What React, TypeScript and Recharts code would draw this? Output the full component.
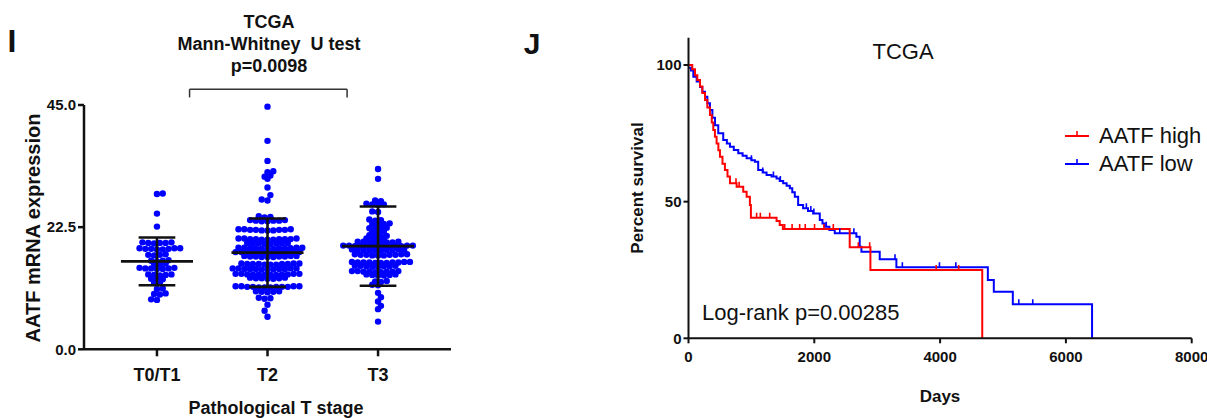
import React from "react";
import { ComposedChart, Scatter, Line, XAxis, YAxis, ReferenceLine } from "recharts";

const FONT = '"Liberation Sans", Arial, Helvetica, sans-serif';
const INK = "#111";

// ---------- panel I : AATF expression by T stage ----------
const stages = ["T0/T1", "T2", "T3"];
const exprTicks = [0, 22.5, 45];

const t01Values = [
  28.7, 28.6, 25.0, 22.6,
  19.7, 19.6, 19.6, 19.5, 19.7, 19.6,
  18.6, 18.5, 18.5, 18.4, 18.6, 18.5, 18.4, 18.6,
  17.5, 17.4, 17.3, 17.4,
  16.4, 16.3, 16.2, 16.3,
  15.8, 15.7, 15.6,
  15.0, 14.9, 14.9, 14.8, 15.0, 14.8, 14.9,
  13.8, 13.7, 13.7, 13.6, 13.8,
  13.0, 12.9, 12.8,
  12.3, 12.2,
  11.2, 11.1,
  10.3, 10.2, 10.1,
  9.2, 9.1,
];

const t2Values = [
  44.7, 38.4, 34.7, 32.8, 32.6, 32.0, 31.8, 31.4, 29.8, 28.4, 27.6, 27.4,
  24.5, 24.4, 24.3,
  23.8, 23.7, 23.7, 23.6, 23.8, 23.7, 23.6,
  22.1, 22.0, 22.0, 21.9, 22.1, 22.0, 21.9, 22.1, 22.0, 21.9,
  20.4, 20.3, 20.3, 20.2, 20.4, 20.3, 20.2, 20.4, 20.3, 20.2, 20.3,
  19.6, 19.5, 19.5, 19.4, 19.6, 19.5, 19.4, 19.6,
  18.7, 18.6, 18.6, 18.5, 18.7, 18.6, 18.5, 18.7, 18.6, 18.5, 18.6, 18.7,
  17.9, 17.8, 17.8, 17.7, 17.9, 17.8, 17.7, 17.9, 17.8, 17.7, 17.8, 17.9,
  17.2, 17.1, 17.1, 17.0, 17.2, 17.1, 17.0, 17.2, 17.1, 17.0,
  15.8, 15.7, 15.7, 15.6, 15.8, 15.7, 15.6, 15.8, 15.7, 15.6, 15.7,
  14.9, 14.8, 14.8, 14.7, 14.9, 14.8, 14.7, 14.9, 14.8, 14.7, 14.8, 14.9,
  13.9, 13.8, 13.8, 13.7, 13.9, 13.8, 13.7, 13.9, 13.8, 13.7, 13.8, 13.9,
  13.2, 13.1, 13.1, 13.0, 13.2, 13.1, 13.0,
  11.6, 11.5, 11.5, 11.4, 11.6, 11.5, 11.4, 11.6, 11.5, 11.4, 11.5, 11.6,
  10.7, 10.6, 10.6, 10.5, 10.7,
  9.5, 9.4, 9.3,
  8.2, 7.1, 6.0,
];

const t3Values = [
  33.2, 31.4,
  27.4, 27.3,
  26.8, 26.7, 26.7, 26.6,
  25.4, 25.3,
  23.9, 23.8, 23.7,
  23.2, 23.1, 23.1, 23.0,
  22.4, 22.3, 22.3, 22.2,
  21.7, 21.6, 21.5,
  21.0, 20.9, 20.9, 20.8,
  20.4, 20.3, 20.3, 20.2,
  19.8, 19.7, 19.7, 19.6, 19.8, 19.7, 19.6, 19.8,
  19.1, 19.0, 19.0, 18.9, 19.1, 19.0, 18.9, 19.1, 19.0, 18.9, 19.0, 19.1, 18.9,
  18.4, 18.3, 18.3, 18.2, 18.4, 18.3, 18.2, 18.4, 18.3, 18.2,
  17.5, 17.4, 17.4, 17.3, 17.5, 17.4, 17.3, 17.5, 17.4, 17.3,
  16.1, 16.0, 16.0, 15.9, 16.1, 16.0, 15.9, 16.1, 16.0, 15.9, 16.0,
  15.4, 15.3, 15.3, 15.2, 15.4, 15.3, 15.2, 15.4,
  14.4, 14.3, 14.3, 14.2, 14.4, 14.3, 14.2, 14.4, 14.3,
  13.8, 13.7, 13.7, 13.6, 13.8, 13.6,
  12.6, 12.5, 12.4,
  11.9, 11.8,
  10.4, 9.6, 8.8, 8.0, 7.4, 5.1,
];

const stageMeans = [16.2, 17.8, 19.0];
const stageSDs = [4.4, 6.3, 7.3];

// ---------- panel J : Kaplan-Meier ----------
const dayTicks = [0, 2000, 4000, 6000, 8000];
const survivalTicks = [0, 50, 100];

const highCurve: [number, number][] = [
  [0, 100], [60, 98.5], [103, 96.3], [140, 94.5], [183, 92.1], [220, 89.8], [262, 87.2],
  [300, 84.5], [341, 81.7], [370, 79.0], [394, 76.2], [420, 73.8], [447, 71.3], [475, 68.8],
  [500, 66.4], [540, 63.9], [579, 61.6], [620, 59.2], [659, 56.7], [765, 55.5], [870, 53.6],
  [924, 51.8], [976, 48.8], [992, 44.1], [1400, 42.9], [1450, 41.5], [1500, 40.0],
  [2563, 33.3], [2892, 25.0], [4670, 0],
];

const lowCurve: [number, number][] = [
  [0, 99], [40, 98], [77, 95.7], [130, 94], [183, 92], [220, 90.2], [262, 88.4], [300, 86],
  [341, 83.5], [380, 80.7], [421, 78], [473, 75], [552, 72.6], [610, 71.3], [659, 70.1],
  [720, 68.9], [791, 67.7], [860, 66.8], [924, 65.9], [1000, 65.2], [1056, 64.6], [1108, 61.6],
  [1180, 60.7], [1241, 59.8], [1320, 59.2], [1400, 58.5], [1450, 57.6], [1505, 56.7],
  [1560, 55.8], [1611, 54.9], [1650, 53.4], [1690, 51.8], [1743, 48.8], [1822, 47.6],
  [1900, 46.6], [1981, 45.7], [2087, 43.3], [2130, 42.0], [2167, 40.8], [2240, 39.6],
  [2325, 38.4], [2669, 37.2], [2722, 33.5], [2749, 31.7], [3040, 28.9], [3305, 26.0],
  [4759, 21.3], [4854, 17.0], [5156, 12.5], [6416, 0],
];

const highCensored = [755, 805, 1083, 1142, 1291, 1529, 1647, 1767, 1856, 2004, 2153, 2302, 2700, 2880, 3938, 4295];
const lowCensored = [1000, 1180, 1350, 1460, 1874, 1945, 1993, 2190, 2405, 2629, 3283, 3400, 3990, 4250, 5251, 5473];

// panel I plot box (px) used to lay the dots out in rows
const I_PLOT_W = 367;
const I_PLOT_H = 244.3;
const I_X_DOMAIN: [number, number] = [-0.66, 2.66];
const DOT_STEP = 5.8;

function swarm(values: number[], group: number) {
  const pxX = I_PLOT_W / (I_X_DOMAIN[1] - I_X_DOMAIN[0]);
  const pxY = I_PLOT_H / 45;
  const sorted = [...values].sort((a, b) => a - b);
  const placed: { x: number; y: number }[] = [];
  return sorted.map((v, i) => {
    const py = v * pxY;
    const sign = i % 2 === 0 ? 1 : -1;
    let off = 0;
    for (let k = 0; k < 80; k++) {
      const cand = k === 0 ? 0 : Math.ceil(k / 2) * (k % 2 === 1 ? 1 : -1) * sign * (DOT_STEP / 2);
      const ok = placed.every((p) => {
        const dy = Math.abs(p.y - py);
        const dx = Math.abs(p.x - cand);
        if (dy < 2) return dx >= DOT_STEP - 0.01;
        if (dy < 6) return dx >= DOT_STEP / 2 - 0.01;
        return true;
      });
      if (ok) {
        off = cand;
        break;
      }
    }
    placed.push({ x: off, y: py });
    return { x: group + off / pxX, y: v };
  });
}

const survivalAt = (curve: [number, number][], t: number) => {
  let s = curve[0][1];
  for (const [ct, cs] of curve) if (ct <= t) s = cs;
  return s;
};

const Dot = (props: any) => <circle cx={props.cx} cy={props.cy} r={3.2} fill="#0000ff" />;

const CensorTick = (color: string) => (props: any) =>
  <line x1={props.cx} x2={props.cx} y1={props.cy - 5} y2={props.cy} stroke={color} strokeWidth={1.6} />;

function Txt({ x, y, size, bold, rotate, start, children }: any) {
  return (
    <div
      style={{
        position: "absolute",
        left: x,
        top: y,
        transform: `translate(${start ? "0" : "-50%"},-50%)${rotate ? ` rotate(${rotate}deg)` : ""}`,
        fontSize: size,
        fontWeight: bold ? 700 : 400,
        fontFamily: FONT,
        whiteSpace: "pre",
        lineHeight: 1,
        color: INK,
      }}
    >
      {children}
    </div>
  );
}

const tickStyle = (size: number) => ({ fontSize: size, fontWeight: 700, fill: INK, fontFamily: FONT });

export default function App() {
  const groups = [t01Values, t2Values, t3Values].map((vals, i) => swarm(vals, i));
  const highCens = highCensored.map((t) => ({ t, s: survivalAt(highCurve, t) }));
  const lowCens = lowCensored.map((t) => ({ t, s: survivalAt(lowCurve, t) }));
  const high = highCurve.map(([t, s]) => ({ t, s }));
  const low = lowCurve.map(([t, s]) => ({ t, s }));

  return (
    <div style={{ position: "absolute", left: 0, top: 0, width: 1207, height: 418, background: "#fff", overflow: "hidden" }}>
      {/* panel I */}
      <div style={{ position: "absolute", left: 0, top: 0 }}>
        <ComposedChart width={470} height={418} margin={{ top: 105, right: 19, bottom: 0, left: 0 }}>
          <XAxis
            type="number"
            dataKey="x"
            domain={I_X_DOMAIN}
            ticks={[0, 1, 2]}
            tickFormatter={(i: number) => stages[i]}
            height={68.7}
            tickSize={7}
            tickMargin={12}
            axisLine={{ stroke: INK, strokeWidth: 2.5 }}
            tickLine={{ stroke: INK, strokeWidth: 2.5 }}
            tick={tickStyle(18)}
          />
          <YAxis
            type="number"
            dataKey="y"
            domain={[0, 45]}
            ticks={exprTicks}
            tickFormatter={(v: number) => v.toFixed(1)}
            width={84}
            tickSize={6}
            tickMargin={2}
            axisLine={{ stroke: INK, strokeWidth: 2.5 }}
            tickLine={{ stroke: INK, strokeWidth: 2.5 }}
            tick={tickStyle(15)}
          />
          {groups.map((g, i) => (
            <Scatter key={stages[i]} data={g} shape={Dot} isAnimationActive={false} />
          ))}
          {stageMeans.map((m, i) => {
            const sd = stageSDs[i];
            const segs = [
              [[i - 0.326, m], [i + 0.326, m]],
              [[i, m - sd], [i, m + sd]],
              [[i - 0.166, m + sd], [i + 0.166, m + sd]],
              [[i - 0.166, m - sd], [i + 0.166, m - sd]],
            ];
            return segs.map((s, j) => (
              <ReferenceLine
                key={`ms-${i}-${j}`}
                segment={[{ x: s[0][0], y: s[0][1] }, { x: s[1][0], y: s[1][1] }]}
                stroke={INK}
                strokeWidth={2.6}
                zIndex={1000}
              />
            ));
          })}
          {/* significance bracket T0/T1 .. T3 */}
          <ReferenceLine segment={[{ x: 0.295, y: 47.9 }, { x: 1.72, y: 47.9 }]} stroke="#333" strokeWidth={1.5} ifOverflow="visible" />
          <ReferenceLine segment={[{ x: 0.295, y: 47.9 }, { x: 0.295, y: 46.4 }]} stroke="#333" strokeWidth={1.5} ifOverflow="visible" />
          <ReferenceLine segment={[{ x: 1.72, y: 47.9 }, { x: 1.72, y: 46.4 }]} stroke="#333" strokeWidth={1.5} ifOverflow="visible" />
        </ComposedChart>
      </div>
      <Txt x={12} y={41} size={32} bold>I</Txt>
      <Txt x={269} y={22} size={18} bold>TCGA</Txt>
      <Txt x={269} y={44} size={18} bold>{"Mann-Whitney  U test"}</Txt>
      <Txt x={269} y={66} size={18} bold>p=0.0098</Txt>
      <Txt x={33} y={228} size={20} bold rotate={-90}>AATF mRNA expression</Txt>
      <Txt x={276} y={408} size={18} bold>Pathological T stage</Txt>

      {/* panel J */}
      <div style={{ position: "absolute", left: 600, top: 0 }}>
        <ComposedChart width={607} height={418} margin={{ top: 37.7, right: 15.3, bottom: 0, left: 0 }}>
          <XAxis
            type="number"
            dataKey="t"
            domain={[0, 8000]}
            ticks={dayTicks}
            allowDataOverflow
            height={79.7}
            tickSize={5}
            tickMargin={8}
            axisLine={{ stroke: INK, strokeWidth: 2 }}
            tickLine={{ stroke: INK, strokeWidth: 2 }}
            tick={tickStyle(15)}
          />
          <YAxis
            type="number"
            dataKey="s"
            domain={[0, 110]}
            ticks={survivalTicks}
            allowDataOverflow
            width={88.5}
            tickSize={5}
            tickMargin={2}
            axisLine={{ stroke: INK, strokeWidth: 2 }}
            tickLine={{ stroke: INK, strokeWidth: 2 }}
            tick={tickStyle(15)}
          />
          <Line data={low} dataKey="s" type="stepAfter" stroke="#0000ff" strokeWidth={2} dot={false} isAnimationActive={false} />
          <Line data={high} dataKey="s" type="stepAfter" stroke="#ff0000" strokeWidth={2} dot={false} isAnimationActive={false} />
          <Scatter data={lowCens} shape={CensorTick("#0000ff")} isAnimationActive={false} legendType="none" />
          <Scatter data={highCens} shape={CensorTick("#ff0000")} isAnimationActive={false} legendType="none" />
        </ComposedChart>
      </div>
      <Txt x={532} y={44} size={30} bold>J</Txt>
      <Txt x={903} y={52} size={22}>TCGA</Txt>
      <Txt x={637} y={188} size={17} bold rotate={-90}>Percent survival</Txt>
      <Txt x={940} y={396} size={17} bold>Days</Txt>
      <Txt x={702} y={313} size={22} start>Log-rank p=0.00285</Txt>
      {[
        { name: "AATF high", color: "#ff0000", y: 136 },
        { name: "AATF low", color: "#0000ff", y: 164 },
      ].map((item) => (
        <div key={item.name}>
          <svg style={{ position: "absolute", left: 1064, top: item.y - 8 }} width={26} height={12}>
            <line x1={1} x2={25} y1={8} y2={8} stroke={item.color} strokeWidth={2} />
            <line x1={13} x2={13} y1={3} y2={8} stroke={item.color} strokeWidth={1.6} />
          </svg>
          <Txt x={1099} y={item.y} size={22} start>{item.name}</Txt>
        </div>
      ))}
    </div>
  );
}
